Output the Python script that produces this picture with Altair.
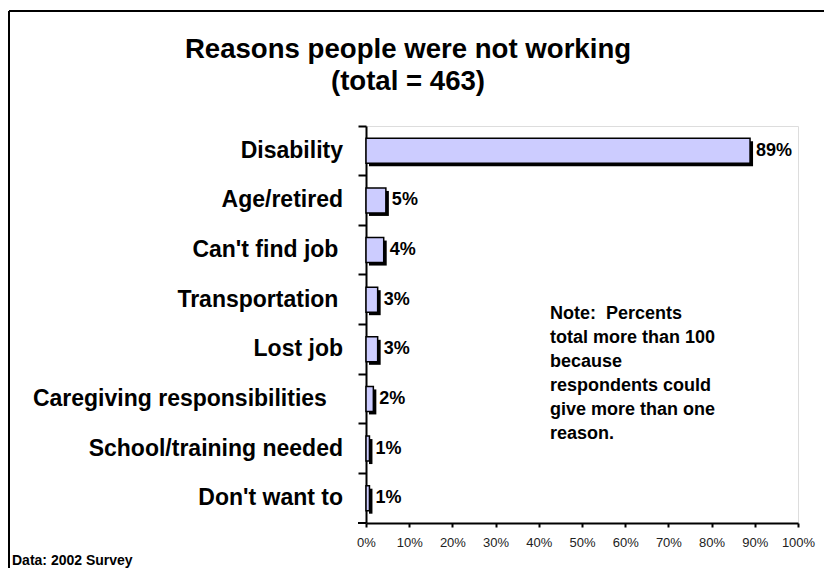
import altair as alt
import pandas as pd

reasons = [
    "Disability",
    "Age/retired",
    "Can't find job",
    "Transportation",
    "Lost job",
    "Caregiving responsibilities",
    "School/training needed",
    "Don't want to",
]
# trailing spaces as they appear in the original category labels
label_suffix = ["", "", "\u2009\u200b", "\u2009\u200b", "", "\u2002\u2009\u200b", "", ""]
percents = [88.9, 4.6, 4.1, 2.7, 2.7, 1.7, 0.8, 0.8]
x_ticks = [0, 10, 20, 30, 40, 50, 60, 70, 80, 90, 100]
title_lines = ["Reasons people were not working", "(total = 463)"]
note_lines = [
    "Note:\u00a0 Percents",
    "total more than 100",
    "because",
    "respondents could",
    "give more than one",
    "reason.",
]
source_text = "Data: 2002 Survey"

df = pd.DataFrame({
    "reason": reasons,
    "pct": percents,
    "shown": [r + s for r, s in zip(reasons, label_suffix)],
})
one = pd.DataFrame({"k": [0]})

FONT = "Liberation Sans"
W, H = 432, 397

y_enc = alt.Y(
    "reason:N",
    sort=reasons,
    scale=alt.Scale(paddingInner=0, paddingOuter=0),
    axis=alt.Axis(
        labels=False, ticks=True, tickSize=8, tickWidth=2, tickColor="black",
        domainColor="black", domainWidth=2, bandPosition=0, title=None,
    ),
)
x_enc = alt.X(
    "pct:Q",
    scale=alt.Scale(domain=[0, 100], nice=False),
    axis=alt.Axis(
        values=x_ticks, labelExpr="datum.value + '%'", tickSize=4, tickWidth=2,
        tickColor="black", domainColor="black", domainWidth=2, labelFontSize=13,
        labelFont=FONT, labelColor="#222", labelPadding=9, labelOverlap=False,
        labelFlush=False, grid=False, title=None,
    ),
)

base = alt.Chart(df)

shadow = base.mark_bar(color="black", size=25, xOffset=3, yOffset=3).encode(x=x_enc, y=y_enc)
bars = base.mark_bar(fill="#CCCCFF", stroke="black", strokeWidth=1.5, size=25).encode(x=x_enc, y=y_enc)
values = base.transform_calculate(label="format(datum.pct, '.0f') + '%'").mark_text(
    align="left", baseline="middle", dx=6, font=FONT, fontWeight="bold", fontSize=18, color="black"
).encode(x=x_enc, y=y_enc, text="label:N")
cats = base.mark_text(
    align="right", baseline="middle", font=FONT, fontWeight="bold", fontSize=23, color="black"
).encode(x=alt.value(-23), y=y_enc, text="shown:N")

c1 = alt.Chart(one)
bottom_tick = c1.mark_rule(color="black", strokeWidth=2).encode(
    x=alt.value(-8), x2=alt.value(0), y=alt.value(H)
)
frame_left = c1.mark_rule(color="black", strokeWidth=2).encode(
    x=alt.value(-357), y=alt.value(-115), y2=alt.value(460)
)
frame_top = c1.mark_rule(color="black", strokeWidth=2).encode(
    x=alt.value(-357), x2=alt.value(480), y=alt.value(-115)
)
title1 = c1.mark_text(
    align="center", baseline="alphabetic", font=FONT, fontWeight="bold", fontSize=27.6, color="black"
).encode(x=alt.value(42), y=alt.value(-68), text=alt.value(title_lines[0]))
title2 = c1.mark_text(
    align="center", baseline="alphabetic", font=FONT, fontWeight="bold", fontSize=27.6, color="black"
).encode(x=alt.value(42), y=alt.value(-36), text=alt.value(title_lines[1]))
note = c1.mark_text(
    align="left", baseline="alphabetic", font=FONT, fontWeight="bold", fontSize=18,
    lineHeight=24, color="black"
).encode(x=alt.value(184), y=alt.value(193), text=alt.value(note_lines))
source = c1.mark_text(
    align="left", baseline="alphabetic", font=FONT, fontWeight="bold", fontSize=14, color="black"
).encode(x=alt.value(-354), y=alt.value(439), text=alt.value(source_text))

chart = alt.layer(
    frame_left, frame_top, shadow, bars, values, cats, bottom_tick, title1, title2, note, source
).properties(
    width=W, height=H,
    autosize=alt.AutoSizeParams(type="none"),
    padding={"left": 366, "top": 126, "right": 26, "bottom": 45},
).configure_view(stroke="#808080", strokeWidth=2).configure(background="white")

chart.save("out.html", embed_options={"renderer": "svg", "actions": False})
